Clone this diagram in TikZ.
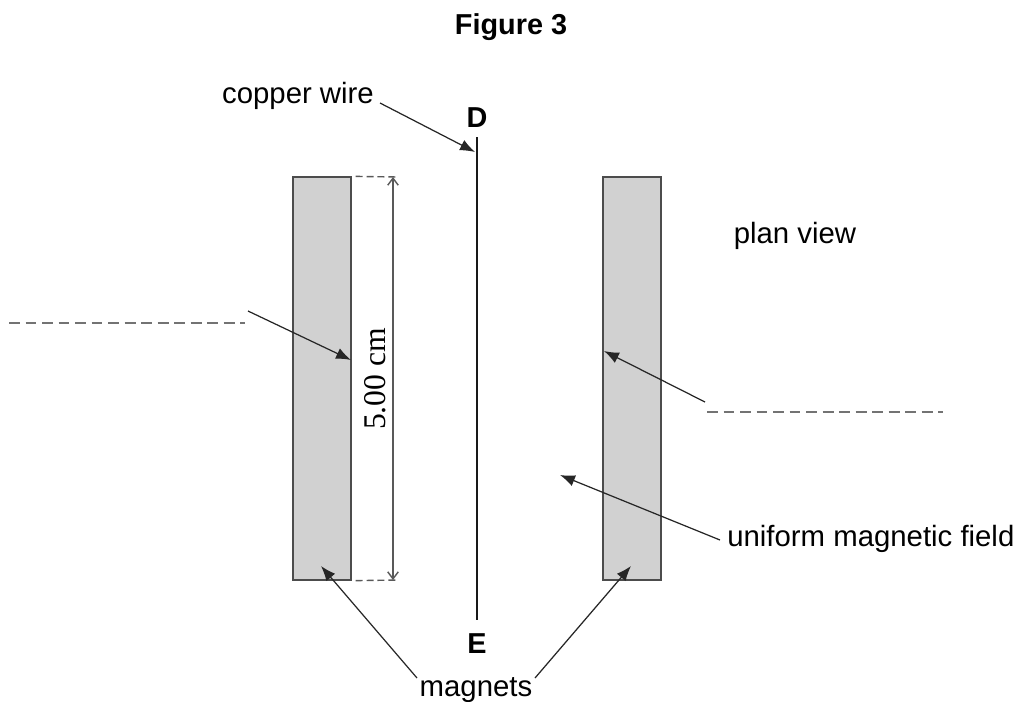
\documentclass[tikz,border=0pt]{standalone}
\usepackage{fontspec}
\setmainfont{Liberation Sans}
\newfontfamily\dimfont{Liberation Serif}
\usetikzlibrary{positioning,arrows.meta}

\begin{document}
\begin{tikzpicture}[x=0.02cm,y=-0.02cm,
						magnet/.style={draw=black!70, fill=black!18, line width=0.75pt, minimum width=1.16cm, minimum height=8.06cm, inner sep=0pt},
						label/.style={font=\fontsize{16.7pt}{19pt}\selectfont, inner sep=0pt},
						letter/.style={font=\fontsize{16.4pt}{19pt}\selectfont\bfseries, inner sep=0pt},
						pointer/.style={-{Latex[length=8.5pt,width=6.5pt]}, line width=0.7pt, black!85},
						guide/.style={black!55, line width=0.7pt, dash pattern=on 6.2pt off 3.2pt},
						dimline/.style={black!65, line width=0.8pt},
						>={Straight Barb[length=4pt,width=6pt]}]
					\useasboundingbox (0,0) rectangle (1018,701);
					\node[letter] (title) at (511,27) {Figure 3};

					\node[magnet] (left) at (322,378.5) {};
					\node[magnet] (right) at (632,378.5) {};

					% wire and its ends
					\coordinate (wiretop) at (477,137);
					\coordinate (wirebot) at (477,620);
					\draw[line width=1.5pt, black!90] (wiretop) -- (wirebot);
					\node[letter] (D) at (477,118) {D};
					\node[letter] (E) at (477,644) {E};

					\node[label] (wire) at (298,96) {copper wire};
					\node[label] (plan) at (795,236) {plan view};
					\node[label, anchor=west] (field) at (727,539) {uniform magnetic field};
					\node[label] (mags) at (476,690) {magnets};
					\node[font=\dimfont\fontsize{18pt}{20pt}\selectfont, rotate=90, inner sep=0pt] (dim) at (375,379) {5.00 cm};

					% pointer ends
					\coordinate (wirefrom) at (380,103);
					\coordinate (wireto) at (475,152);
					\coordinate (lfrom) at (248,311);
					\coordinate (lto) at (351,360);
					\coordinate (rfrom) at (705,402);
					\coordinate (rto) at (604,351);
					\coordinate (fieldfrom) at (720,540);
					\coordinate (fieldto) at (560,475);
					\coordinate (magfroml) at (417,678);
					\coordinate (magtol) at (321,566);
					\coordinate (magfromr) at (535,678);
					\coordinate (magtor) at (631,566);

					\draw[pointer] (wirefrom) -- (wireto);
					\draw[pointer] (lfrom) -- (lto);
					\draw[pointer] (rfrom) -- (rto);
					\draw[pointer] (fieldfrom) -- (fieldto);
					\draw[pointer] (magfroml) -- (magtol);
					\draw[pointer] (magfromr) -- (magtor);

					% dashed section lines
					\coordinate (la) at (9,323);
					\coordinate (lb) at (245,323);
					\coordinate (ra) at (707,412);
					\coordinate (rb) at (943,412);
					\draw[guide] (la) -- (lb);
					\draw[guide] (ra) -- (rb);

					% 5.00 cm dimension
					\coordinate (dimtop) at (393,177);
					\coordinate (dimbot) at (393,580);
					\coordinate (ticktop) at (398,177);
					\coordinate (tickbot) at (398,580);
					\draw[dimline, <->] (dimtop) -- (dimbot);
					\draw[dimline, dash pattern=on 4pt off 2.2pt] (left.north east) ++(4,0) -- (ticktop);
					\draw[dimline, dash pattern=on 4pt off 2.2pt] (left.south east) ++(4,0) -- (tickbot);
				\end{tikzpicture}
\end{document}
